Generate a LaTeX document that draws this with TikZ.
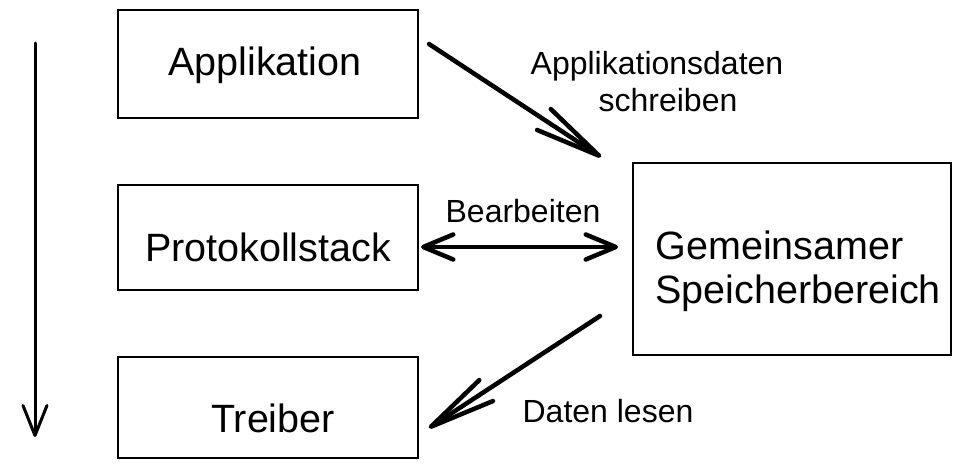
\documentclass[tikz,border=0pt]{standalone}
\usepackage{fontspec}
\setmainfont{Liberation Sans}
\usetikzlibrary{arrows.meta}
\tikzset{
  box/.style={draw, line width=2bp, inner sep=0pt},
  boxtext/.style={font=\fontsize{39.5bp}{44bp}\selectfont},
  lbl/.style={font=\fontsize{32bp}{37bp}\selectfont, align=center, inner sep=0pt},
  longbarb/.tip={Straight Barb[length=66bp, width=25bp, line width=4.5bp, round]},
  shortbarb/.tip={Straight Barb[length=30bp, width=25bp, line width=4.5bp, round]},
  thinbarb/.tip={Straight Barb[length=30bp, width=24bp, line width=3bp, round]},
  flow/.style={line width=4.5bp, line cap=round, -{longbarb}},
}
\begin{document}
\begin{tikzpicture}[x=1bp, y=-1bp]
  \useasboundingbox (0,0) rectangle (956,464);

  % boxes
  \node[box, minimum width=300bp, minimum height=108bp] (app)   at (268,64)    {};
  \node[box, minimum width=300bp, minimum height=105bp] (proto) at (268,237.5) {};
  \node[box, minimum width=300bp, minimum height=101bp] (drv)   at (268,407.5) {};
  \node[box, minimum width=318bp, minimum height=192bp] (mem)   at (792,259)   {};

  % box texts
  \node[boxtext] (tapp)   at (265,65)  {Applikation};
  \node[boxtext] (tproto) at (268,247) {Protokollstack};
  \node[boxtext] (tdrv)   at (273,418) {Treiber};
  \node[boxtext, anchor=west, align=left] (tmem) at (652,271)
    {Gemeinsamer\\Speicherbereich};

  % arrow end points
  \coordinate (a1s) at (429,44);
  \coordinate (a1e) at (601,157);
  \coordinate (a2s) at (421,247);
  \coordinate (a2e) at (618,247);
  \coordinate (a3s) at (600,316);
  \coordinate (a3e) at (429,428);
  \coordinate (a4s) at (35,43);
  \coordinate (a4e) at (35,437);

  % connectors
  \draw[flow] (a1s) -- (a1e);
  \draw[line width=4.5bp, line cap=round, {shortbarb}-{shortbarb}] (a2s) -- (a2e);
  \draw[flow] (a3s) -- (a3e);
  \draw[line width=3bp, line cap=round, -{thinbarb}] (a4s) -- (a4e);

  % connector labels
  \node[lbl] (l1) at (657,82) {Applikationsdaten\\\hspace*{22bp}schreiben};
  \node[lbl] (l2) at (523,211) {Bearbeiten};
  \node[lbl] (l3) at (608,411) {Daten lesen};
\end{tikzpicture}
\end{document}
